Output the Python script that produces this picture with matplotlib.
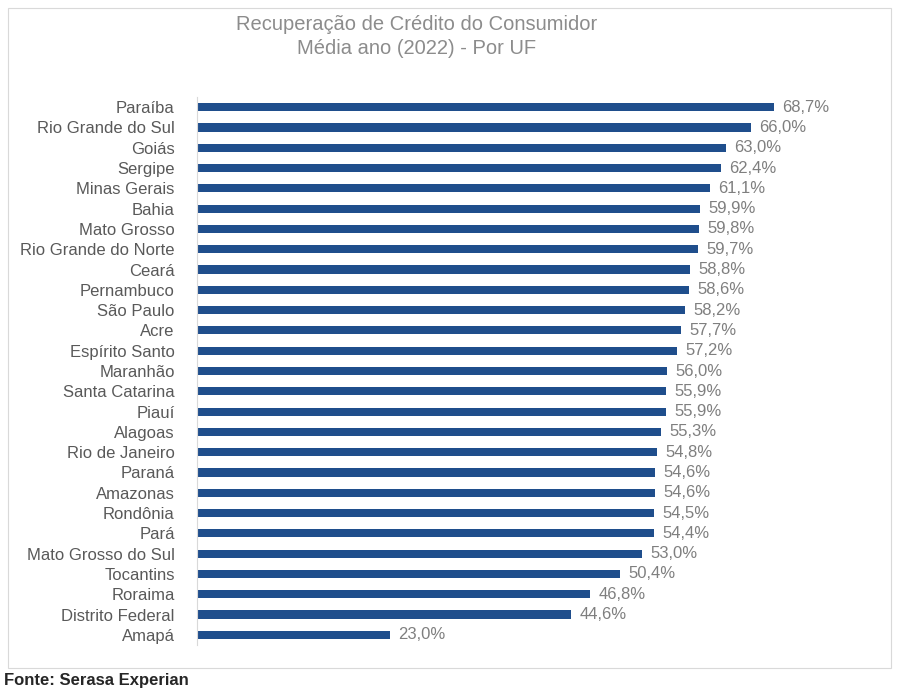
import matplotlib.pyplot as plt
from matplotlib.patches import Rectangle

plt.rcParams['font.family'] = ['Liberation Sans', 'DejaVu Sans']

estados = ["Paraíba", "Rio Grande do Sul", "Goiás", "Sergipe", "Minas Gerais", "Bahia",
           "Mato Grosso", "Rio Grande do Norte", "Ceará", "Pernambuco", "São Paulo", "Acre",
           "Espírito Santo", "Maranhão", "Santa Catarina", "Piauí", "Alagoas", "Rio de Janeiro",
           "Paraná", "Amazonas", "Rondônia", "Pará", "Mato Grosso do Sul", "Tocantins",
           "Roraima", "Distrito Federal", "Amapá"]
valores = [68.7, 66.0, 63.0, 62.4, 61.1, 59.9, 59.8, 59.7, 58.8, 58.6, 58.2, 57.7, 57.2,
           56.0, 55.9, 55.9, 55.3, 54.8, 54.6, 54.6, 54.5, 54.4, 53.0, 50.4, 46.8, 44.6, 23.0]

W, H = 900, 691
fig = plt.figure(figsize=(W / 100, H / 100), dpi=100)

# moldura do gráfico
fig.patches.append(Rectangle((8 / W, 1 - 668 / H), 883 / W, 660 / H, transform=fig.transFigure,
                             fill=False, edgecolor='#d9d9d9', linewidth=0.8))

ax = fig.add_axes([197 / W, 1 - 645 / H, (860 - 197) / W, (645 - 97) / H])
y = list(range(len(estados)))
ax.barh(y, valores, height=0.4, color='#1f4e8c')
for yi, v in zip(y, valores):
    ax.text(v + 1.0, yi, f"{v:.1f}%".replace('.', ','), va='center', ha='left',
            fontsize=12, color='#7f7f7f')
ax.set_xlim(0, 79)
ax.set_ylim(len(estados) - 0.5, -0.5)
ax.set_yticks(y)
ax.set_yticklabels(estados, fontsize=12, color='#595959')
ax.tick_params(axis='y', length=0, pad=16)
ax.set_xticks([])
for s in ['top', 'right', 'bottom']:
    ax.spines[s].set_visible(False)
ax.spines['left'].set_color('#d9d9d9')

fig.text(417 / W, 1 - 25 / H, "Recuperação de Crédito do Consumidor", ha='center', va='center',
         fontsize=14.5, color='#8c8c8c')
fig.text(417 / W, 1 - 49 / H, "Média ano (2022) - Por UF", ha='center', va='center',
         fontsize=14.5, color='#8c8c8c')
fig.text(4 / W, 1 - 680 / H, "Fonte: Serasa Experian", ha='left', va='center',
         fontsize=12, fontweight='bold', color='#262626')

fig.savefig('out.png', dpi=100)
